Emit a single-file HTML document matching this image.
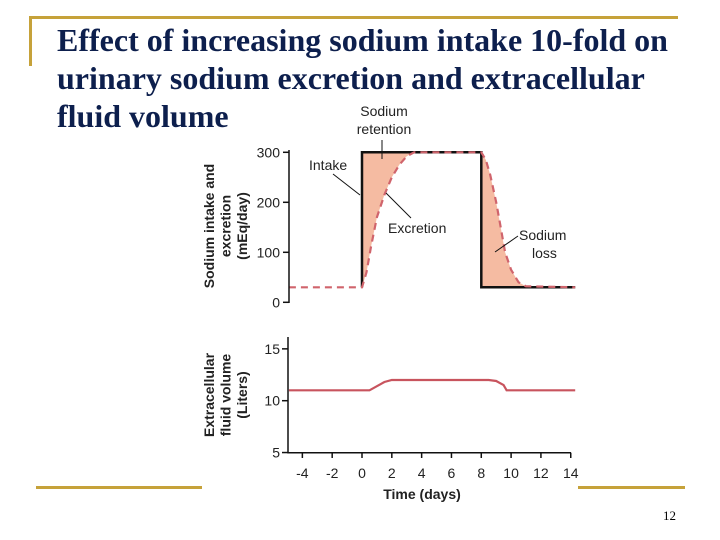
<!DOCTYPE html>
<html><head><meta charset="utf-8"><style>
body{margin:0;width:720px;height:540px;background:#fff;overflow:hidden;position:relative;font-family:"Liberation Sans",sans-serif}
.title{position:absolute;left:57px;top:21px;font-family:"Liberation Serif",serif;font-weight:bold;font-size:32px;line-height:38px;color:#0d1f4d;margin:0;white-space:nowrap}
.bar{position:absolute;background:#c6a23a}
.pg{position:absolute;left:663px;top:508px;font-family:"Liberation Serif",serif;font-size:13px;color:#000}
</style></head><body>
<div class="bar" style="left:32px;top:16px;width:646px;height:3px"></div>
<div class="bar" style="left:29px;top:16px;width:3px;height:50px"></div>
<div class="bar" style="left:36px;top:486px;width:166px;height:3px"></div>
<div class="bar" style="left:578px;top:486px;width:107px;height:3px"></div>
<svg id="chart" style="position:absolute;left:0;top:0" width="720" height="540">
<rect x="228" y="100" width="350" height="405" fill="#fff"/>
<g id="g" font-family="Liberation Sans, sans-serif"></g>
</svg>
<h1 class="title">Effect of increasing sodium intake 10-fold on<br>urinary sodium excretion and extracellular<br>fluid volume</h1>
<div class="pg">12</div>
<script>
const tickDays=[-4,-2,0,2,4,6,8,10,12,14];
const naTicks=[0,100,200,300];
const ecfTicks=[5,10,15];
const intakeDays=[0,0,8,8,14.3];
const intakeVals=[30,300,300,30,30];
const excDays=[-4.9,0,0.3,0.6,1,1.5,2,2.5,3,3.5,8,8.3,8.6,9,9.3,9.6,10,10.5,11,14.3];
const excVals=[30,30,60,110,170,215,250,275,292,300,300,285,255,200,150,100,65,40,32,30];
const ecfDays=[-4.9,0.5,1,1.5,2,8.5,9,9.5,9.7,14.3];
const ecfVals=[11,11,11.4,11.8,12,12,11.9,11.5,11,11];
const X=d=>362+d*14.91;
const Y1=v=>302.3-v*0.5;
const Y2=v=>400.7-(v-10)*10.37;
const g=document.getElementById('g');
const NS='http://www.w3.org/2000/svg';
function mk(t,a,txt){const e=document.createElementNS(NS,t);for(const k in a)e.setAttribute(k,a[k]);if(txt!=null)e.textContent=txt;g.appendChild(e);return e;}
const pts=(ds,vs,Y)=>ds.map((d,i)=>X(d).toFixed(1)+','+Y(vs[i]).toFixed(1));
const f=mk('polygon',{points:pts(intakeDays,intakeVals,Y1).concat(pts(excDays,excVals,Y1).reverse()).join(' '),fill:'#f5bba2'});


const il=mk('polyline',{points:pts(intakeDays,intakeVals,Y1).join(' '),fill:'none',stroke:'#111',"stroke-width":2.5});


const el=mk('polyline',{points:pts(excDays,excVals,Y1).join(' '),fill:'none',stroke:'#d0646c',"stroke-width":2.2,"stroke-dasharray":"7,5"});


const cl=mk('polyline',{points:pts(ecfDays,ecfVals,Y2).join(' '),fill:'none',stroke:'#c8545e',"stroke-width":2.2});


const a1=mk('line',{x1:289,y1:150,x2:289,y2:303,stroke:'#111',"stroke-width":1.5});


naTicks.forEach(v=>{
  const t=mk('line',{x1:283,x2:289,y1:Y1(v),y2:Y1(v),stroke:'#111',"stroke-width":1.5});
  
  
  const l=mk('text',{x:280,y:Y1(v)+5,"text-anchor":"end","font-size":14,fill:'#222'},v);
  
  
});
const a2=mk('polyline',{points:'288,337 288,452.7 571,452.7',fill:'none',stroke:'#111',"stroke-width":1.5});


ecfTicks.forEach(v=>{
  const t=mk('line',{x1:282,x2:288,y1:Y2(v),y2:Y2(v),stroke:'#111',"stroke-width":1.5});
  
  
  const l=mk('text',{x:280,y:Y2(v)+5,"text-anchor":"end","font-size":14,fill:'#222'},v);
  
  
});
tickDays.forEach(d=>{
  const t=mk('line',{x1:X(d),x2:X(d),y1:452.7,y2:458,stroke:'#111',"stroke-width":1.5});
  
  
  const l=mk('text',{x:X(d),y:478,"text-anchor":"middle","font-size":14,fill:'#222'},d);
  
  
});
const xt=mk('text',{x:422,y:499,"text-anchor":"middle","font-size":14,"font-weight":"bold",fill:'#222'},'Time (days)');


function vlab(lines,cy,name){
  lines.forEach((s,i)=>{
    const x=214+i*16.5;
    const t=mk('text',{x:x,y:cy,transform:`rotate(-90 ${x} ${cy})`,"text-anchor":"middle","font-size":14,"font-weight":"bold",fill:'#222'},s);
    
    
  });
}
vlab(['Sodium intake and','excretion','(mEq/day)'],226,'top-y-axis-title');
vlab(['Extracellular','fluid volume','(Liters)'],395,'bottom-y-axis-title');
function txt(s,x,y,a,name){const t=mk('text',{x:x,y:y,"text-anchor":a||'start',"font-size":14,fill:'#222'},s);}
function ln(x1,y1,x2,y2,name){const l=mk('line',{x1,y1,x2,y2,stroke:'#111',"stroke-width":1});}
txt('Sodium',384,116,'middle','retention-label');
txt('retention',384,134,'middle','retention-label');
ln(382,140,382,159,'retention-leader');
txt('Intake',309,170,'start','intake-label');
ln(333,174,360,195,'intake-leader');
txt('Excretion',388,233,'start','excretion-label');
ln(386,193,411,218,'excretion-leader');
txt('Sodium',519,240,'start','sodium-loss-label');
txt('loss',532,258,'start','sodium-loss-label');
ln(495,252,518,236,'sodium-loss-leader');
</script>
</body></html>
